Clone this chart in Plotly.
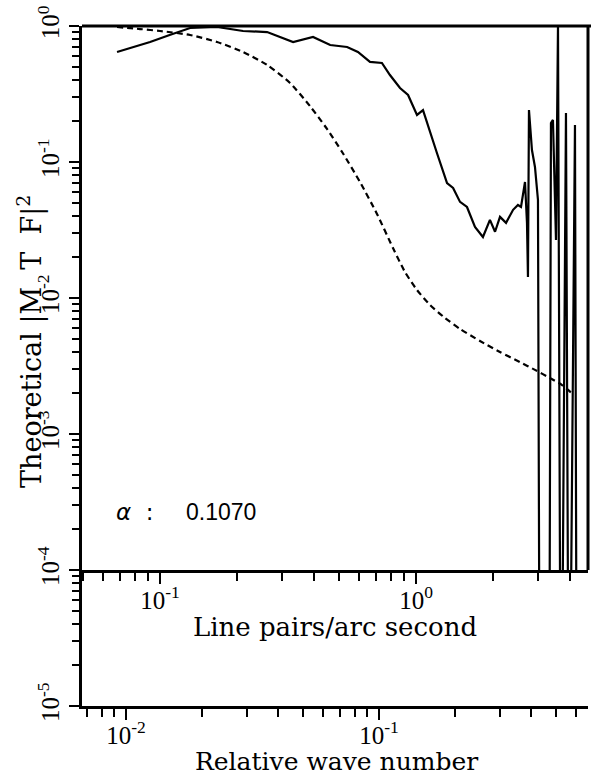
import plotly.graph_objects as go

# ---------------- data ----------------
# dashed curve (theoretical), x in line pairs / arc second
dashed_lp = [0.0679, 0.0835, 0.1, 0.131, 0.167, 0.211, 0.262, 0.322, 0.385, 0.449,
             0.518, 0.604, 0.704, 0.813, 0.906, 1.009, 1.134, 1.298, 1.486, 1.778,
             2.128, 2.547, 2.916, 3.336, 3.72, 4.07]
dashed_mtf = [0.983, 0.950, 0.919, 0.859, 0.763, 0.644, 0.517, 0.381, 0.258, 0.175,
              0.116, 0.0713, 0.0415, 0.0233, 0.0155, 0.01145, 0.00889, 0.00713, 0.00592, 0.00483,
              0.00401, 0.00338, 0.00296, 0.00258, 0.00229, 0.00199]

# solid curve (measured); 1e-6 marks dips that fall below the plotted range
solid_lp = [0.0679, 0.0914, 0.109, 0.131, 0.167, 0.211, 0.262, 0.331, 0.396, 0.462,
            0.538, 0.593, 0.661, 0.736, 0.791, 0.866, 0.931, 1.009, 1.065, 1.135,
            1.208, 1.322, 1.396, 1.486, 1.582, 1.700, 1.826, 1.945, 2.036, 2.129,
            2.248, 2.395, 2.502, 2.572, 2.666, 2.714, 2.738, 2.763, 2.838, 2.916,
            2.996, 3.050, 3.307, 3.367, 3.428, 3.523, 3.587, 3.685, 3.854, 3.960,
            4.179, 4.255]
solid_mtf = [0.644, 0.763, 0.859, 0.967, 0.983, 0.919, 0.903, 0.763, 0.830, 0.725,
             0.701, 0.644, 0.544, 0.535, 0.436, 0.350, 0.311, 0.222, 0.241, 0.163,
             0.116, 0.0701, 0.0645, 0.0509, 0.0467, 0.0333, 0.0281, 0.0375, 0.0307, 0.0395,
             0.0357, 0.0445, 0.0483, 0.0467, 0.0713, 0.0356, 0.01426, 0.241, 0.1225, 0.0919,
             0.0526, 1e-6, 1e-6, 0.1936, 0.2037, 0.0267, 1.0, 1e-6, 0.229, 1e-6,
             0.187, 1e-6]

# axis ticks / labels
y_major = [1e-5, 1e-4, 1e-3, 1e-2, 1e-1, 1]
y_labels = ["10<sup>-5</sup>", "10<sup>-4</sup>", "10<sup>-3</sup>",
            "10<sup>-2</sup>", "10<sup>-1</sup>", "10<sup>0</sup>"]
y_minor = [m * 10.0 ** e for e in range(-5, 0) for m in range(2, 10)]

lp_major = [0.1, 1]
lp_labels = ["10<sup>-1</sup>", "10<sup>0</sup>"]
lp_minor = [0.05, 0.06, 0.07, 0.08, 0.09, 0.2, 0.3, 0.4, 0.5, 0.6, 0.7, 0.8, 0.9, 2, 3, 4]

rw_major = [0.01, 0.1]
rw_labels = ["10<sup>-2</sup>", "10<sup>-1</sup>"]
rw_minor = [0.007, 0.008, 0.009, 0.02, 0.03, 0.04, 0.05, 0.06, 0.07, 0.08, 0.09,
            0.2, 0.3, 0.4, 0.5, 0.6]

lp_range = [-1.305, 0.672]
rw_range = [-2.174, -0.174]
y_range_full = [-5, 0]
y_range_upper = [-4, 0]

x_title = "Line pairs/arc second"
x2_title = "Relative wave number"
y_title = "Theoretical |M  T  F|<sup>2</sup>"
alpha_label = "<i>α</i>  :"
alpha_value = "0.1070"

# ---------------- figure ----------------
W, H = 591, 775
ML, MR, MT, MB = 82, 3, 26, 69
upper_frac = 0.2  # position of 1e-4 within the full y range

serif = "DejaVu Serif"
tickfont = dict(family="Liberation Serif", size=25, color="black")

fig = go.Figure()

# empty trace so the lower axis pair forms a subplot
fig.add_trace(go.Scatter(x=[], y=[], xaxis="x2", yaxis="y", showlegend=False,
                         hoverinfo="skip"))

fig.add_trace(go.Scatter(x=dashed_lp, y=dashed_mtf, mode="lines", xaxis="x", yaxis="y2",
                         line=dict(color="black", width=2.2, dash="6px,4px",
                                   shape="spline", smoothing=0.6),
                         showlegend=False))
fig.add_trace(go.Scatter(x=solid_lp, y=solid_mtf, mode="lines", xaxis="x", yaxis="y2",
                         line=dict(color="black", width=2.2),
                         showlegend=False))

axis_common = dict(showgrid=False, zeroline=False, showline=True, linecolor="black",
                   linewidth=2.5, ticks="outside", tickcolor="black", tickwidth=2,
                   tickfont=tickfont)

fig.update_layout(
    width=W, height=H,
    margin=dict(l=ML, r=MR, t=MT, b=MB, pad=0),
    paper_bgcolor="white", plot_bgcolor="rgba(0,0,0,0)",
    showlegend=False,
    xaxis=dict(type="log", range=lp_range, domain=[0, 1], anchor="y2",
               tickmode="array", tickvals=lp_major, ticktext=lp_labels, ticklen=11,
               ticklabelstandoff=-5,
               minor=dict(tickmode="array", tickvals=lp_minor, ticks="outside",
                          ticklen=8, tickwidth=2, tickcolor="black"),
               **axis_common),
    yaxis2=dict(type="log", range=y_range_upper, domain=[upper_frac, 1], anchor="x",
                visible=False),
    xaxis2=dict(type="log", range=rw_range, domain=[0, 1], anchor="y",
                tickmode="array", tickvals=rw_major, ticktext=rw_labels, ticklen=11,
                ticklabelstandoff=-6,
                minor=dict(tickmode="array", tickvals=rw_minor, ticks="outside",
                           ticklen=8, tickwidth=2, tickcolor="black"),
                **axis_common),
    yaxis=dict(type="log", range=y_range_full, domain=[0, 1], anchor="x2",
               tickmode="array", tickvals=y_major, ticktext=y_labels, ticklen=10,
               tickangle=-90,
               minor=dict(tickmode="array", tickvals=y_minor, ticks="outside",
                          ticklen=7, tickwidth=2, tickcolor="black"),
               **axis_common),
)

# frame of the upper panel
fig.add_shape(type="line", xref="paper", yref="paper", x0=0, x1=1.006, y0=1, y1=1,
              line=dict(color="black", width=3))
fig.add_shape(type="line", xref="paper", yref="paper", x0=1, x1=1, y0=upper_frac, y1=1,
              line=dict(color="black", width=3))

pw = W - ML - MR
ph = H - MT - MB


def px2paper(px, py):
    return (px - ML) / pw, (H - MB - py) / ph


# axis titles
tx, ty = px2paper(335, 627)
fig.add_annotation(text=x_title, xref="paper", yref="paper", x=tx, y=ty,
                   showarrow=False, xanchor="center", yanchor="middle",
                   font=dict(family=serif, size=26, color="black"))
tx, ty = px2paper(336, 761)
fig.add_annotation(text=x2_title, xref="paper", yref="paper", x=tx, y=ty,
                   showarrow=False, xanchor="center", yanchor="middle",
                   font=dict(family=serif, size=25, color="black"))
tx, ty = px2paper(30, 342)
fig.add_annotation(text=y_title, xref="paper", yref="paper", x=tx, y=ty,
                   showarrow=False, xanchor="center", yanchor="middle", textangle=-90,
                   font=dict(family=serif, size=27, color="black"))

# alpha annotation
tx, ty = px2paper(114, 512)
fig.add_annotation(text=alpha_label, xref="paper", yref="paper", x=tx, y=ty,
                   showarrow=False, xanchor="left", yanchor="middle",
                   font=dict(family="DejaVu Sans", size=23, color="black"))
tx, ty = px2paper(184, 512)
fig.add_annotation(text=alpha_value, xref="paper", yref="paper", x=tx, y=ty,
                   showarrow=False, xanchor="left", yanchor="middle",
                   font=dict(family="Liberation Sans", size=23, color="black"))

fig.write_html("out.html")
